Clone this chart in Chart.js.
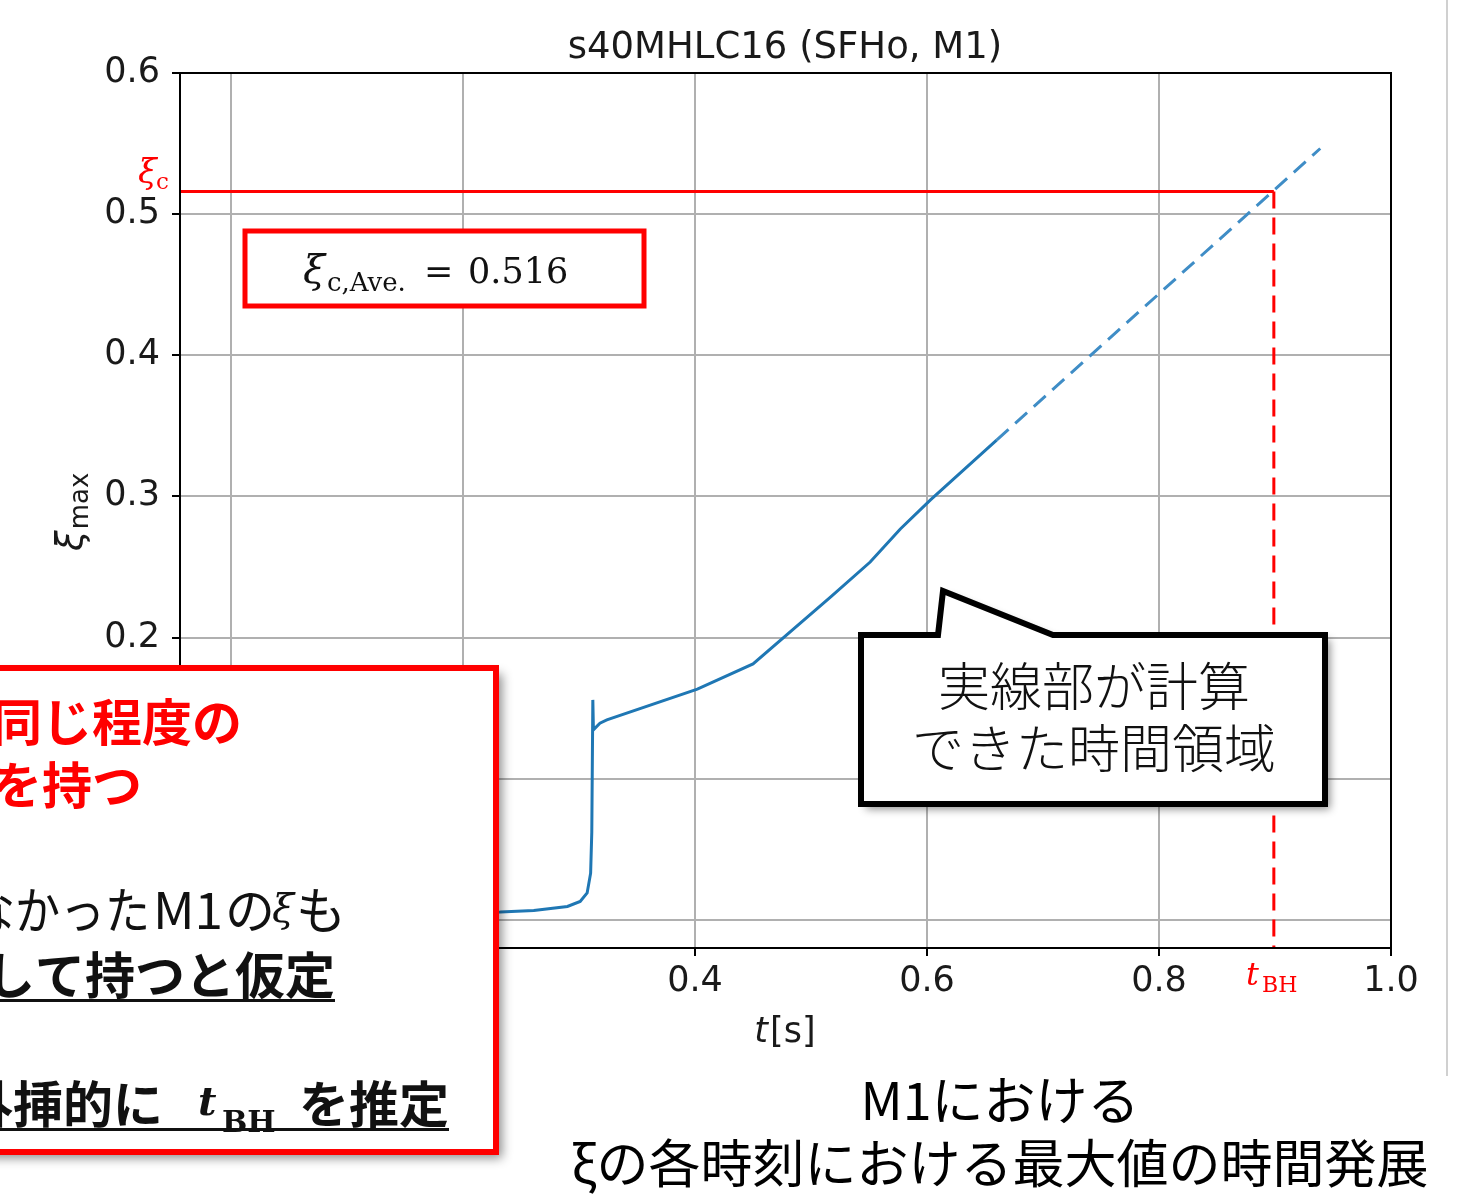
<!DOCTYPE html>
<html>
<head>
<meta charset="utf-8">
<script src="https://cdn.jsdelivr.net/npm/chart.js@4.4.1/dist/chart.umd.min.js"></script>
<style>
  html, body { margin: 0; padding: 0; background: #ffffff; overflow: hidden; }
  canvas { display: block; }
</style>
</head>
<body>
<canvas id="chart" width="1458" height="1204"></canvas>
<script>
// Maximum of xi at each time, computed part of the run (t in seconds)
const simTime = [0.000, 0.050, 0.100, 0.150, 0.200, 0.232, 0.261, 0.290, 0.301, 0.307, 0.310,
                 0.311, 0.3119, 0.3124, 0.318, 0.324, 0.402, 0.450, 0.517, 0.551,
                 0.577, 0.603, 0.660];
const simXi   = [0.002, 0.003, 0.004, 0.0045, 0.005, 0.0055, 0.0066, 0.0094, 0.013, 0.019, 0.033,
                 0.062, 0.1558, 0.1346, 0.1393, 0.1416, 0.1634, 0.1813, 0.2288, 0.2535,
                 0.2769, 0.2975, 0.3399];

// Linear extrapolation beyond the computed interval
const extrapTime = [0.660, 0.939];
const extrapXi   = [0.3399, 0.5465];

// Critical compactness and the estimated BH formation time
const xiCritical = 0.516;
const tBH = 0.899;

// Axis ranges and tick values
const xRange = [-0.044, 1.0];
const yRange = [-0.02, 0.6];
const xTicks = [0.0, 0.2, 0.4, 0.6, 0.8, 1.0];
const yTicks = [0.0, 0.1, 0.2, 0.3, 0.4, 0.5, 0.6];

const titleText = 's40MHLC16 (SFHo, M1)';
const boxValueText = '0.516';
const calloutLines = ['実線部が計算', 'できた時間領域'];
const captionLines = ['M1における', 'ξの各時刻における最大値の時間発展'];

const CJK = '"Noto Sans CJK JP", "Noto Sans", sans-serif';
const SANS = '"DejaVu Sans", sans-serif';
const SERIF = '"DejaVu Serif", serif';

function pts(xs, ys) { return xs.map((x, i) => ({ x: x, y: ys[i] })); }

// draw text squeezed or stretched horizontally to a given width
function fitText(ctx, text, left, y, width) {
  const w = ctx.measureText(text).width;
  ctx.save();
  ctx.translate(left, y);
  ctx.scale(width / w, 1);
  ctx.textAlign = 'left';
  ctx.fillText(text, 0, 0);
  ctx.restore();
}

const frame = {
  id: 'frame',
  afterDatasetsDraw(chart) {
    const { ctx, chartArea: a } = chart;
    ctx.save();
    ctx.strokeStyle = '#000';
    ctx.lineWidth = 2;
    ctx.strokeRect(a.left, a.top, a.right - a.left, a.bottom - a.top);
    ctx.restore();
  }
};

const annotations = {
  id: 'annotations',
  afterDraw(chart) {
    const ctx = chart.ctx;
    ctx.save();

    // title
    ctx.fillStyle = '#1a1a1a';
    ctx.font = '37px ' + SANS;
    ctx.textAlign = 'center';
    ctx.textBaseline = 'alphabetic';
    ctx.fillText(titleText, 785, 58);

    // x axis label: t[s]
    ctx.textAlign = 'left';
    ctx.font = 'italic 35px ' + SANS;
    const wT = ctx.measureText('t').width;
    ctx.font = '35px ' + SANS;
    const wS = ctx.measureText('[s]').width;
    const x0 = 785 - (wT + wS + 2) / 2;
    ctx.font = 'italic 35px ' + SANS;
    ctx.fillText('t', x0, 1042);
    ctx.font = '35px ' + SANS;
    ctx.fillText('[s]', x0 + wT + 2, 1042);

    // y axis label: xi_max
    ctx.save();
    ctx.translate(82, 551);
    ctx.rotate(-Math.PI / 2);
    ctx.font = 'italic 37px ' + SANS;
    ctx.fillText('ξ', 0, 0);
    const wXi = ctx.measureText('ξ').width;
    ctx.font = '26px ' + SANS;
    ctx.fillText('max', wXi + 1, 6);
    ctx.restore();

    // xi_c label next to the axis
    ctx.fillStyle = '#ff0000';
    ctx.font = 'italic 34px ' + SERIF;
    ctx.fillText('ξ', 138, 183);
    ctx.font = '23px ' + SERIF;
    ctx.fillText('c', 156, 189);

    // t_BH label below the axis
    ctx.font = 'italic 32px ' + SERIF;
    ctx.fillText('t', 1246, 985);
    ctx.font = '22px ' + SERIF;
    ctx.fillText('BH', 1262, 992);

    // xi_c,Ave. value box
    ctx.fillStyle = '#ffffff';
    ctx.fillRect(245, 231, 399, 75);
    ctx.strokeStyle = '#ff0000';
    ctx.lineWidth = 5;
    ctx.strokeRect(245, 231, 399, 75);
    ctx.fillStyle = '#111';
    ctx.font = 'italic 40px ' + SERIF;
    ctx.fillText('ξ', 303, 283);
    ctx.font = '26px ' + SERIF;
    ctx.fillText('c,Ave.', 327, 291);
    ctx.font = '35px ' + SERIF;
    ctx.fillText('=', 424, 283);
    ctx.fillText(boxValueText, 468, 283);

    // speech-bubble callout
    ctx.save();
    ctx.beginPath();
    ctx.moveTo(861, 635);
    ctx.lineTo(938, 635);
    ctx.lineTo(943, 591);
    ctx.lineTo(1053, 635);
    ctx.lineTo(1325, 635);
    ctx.lineTo(1325, 804);
    ctx.lineTo(861, 804);
    ctx.closePath();
    ctx.shadowColor = 'rgba(0,0,0,0.45)';
    ctx.shadowBlur = 8;
    ctx.shadowOffsetX = 5;
    ctx.shadowOffsetY = 5;
    ctx.fillStyle = '#ffffff';
    ctx.fill();
    ctx.shadowColor = 'rgba(0,0,0,0)';
    ctx.lineJoin = 'miter';
    ctx.lineWidth = 6;
    ctx.strokeStyle = '#000';
    ctx.stroke();
    ctx.restore();
    ctx.fillStyle = '#111';
    ctx.textAlign = 'center';
    ctx.textBaseline = 'middle';
    ctx.font = '300 52px ' + CJK;
    ctx.fillText(calloutLines[0], 1094, 686);
    ctx.fillText(calloutLines[1], 1094, 748);

    // explanatory box on the lower left
    ctx.save();
    ctx.shadowColor = 'rgba(0,0,0,0.45)';
    ctx.shadowBlur = 10;
    ctx.shadowOffsetX = 6;
    ctx.shadowOffsetY = 6;
    ctx.fillStyle = '#ffffff';
    ctx.fillRect(-20, 668, 516, 484);
    ctx.restore();
    ctx.strokeStyle = '#ff0000';
    ctx.lineWidth = 6;
    ctx.strokeRect(-20, 668, 516, 484);

    ctx.textAlign = 'right';
    ctx.textBaseline = 'middle';
    ctx.fillStyle = '#ff0000';
    ctx.font = '700 50px ' + CJK;
    ctx.fillText('同じ程度の', 242, 722);
    ctx.fillText('を持つ', 142, 785);

    ctx.fillStyle = '#111';
    ctx.font = '400 50px ' + CJK;
    fitText(ctx, 'なかった', -30, 910, 180);
    fitText(ctx, 'M1', 153, 910, 70);
    ctx.textAlign = 'left';
    ctx.fillText('の', 225, 910);
    ctx.textAlign = 'right';
    ctx.fillText('も', 346, 910);
    ctx.textAlign = 'left';
    ctx.textBaseline = 'alphabetic';
    ctx.font = 'italic 40px ' + SERIF;
    ctx.fillText('ξ', 272, 922);

    ctx.textAlign = 'right';
    ctx.textBaseline = 'middle';
    ctx.font = '700 50px ' + CJK;
    ctx.fillText('して持つと仮定', 335, 975);
    ctx.fillText('外挿的に', 163, 1104);
    ctx.fillText('を推定', 449, 1104);
    ctx.textAlign = 'left';
    ctx.textBaseline = 'alphabetic';
    ctx.font = 'italic bold 40px ' + SERIF;
    ctx.fillText('t', 198, 1115);
    ctx.font = 'bold 30px ' + SERIF;
    ctx.fillText('BH', 222, 1132);

    ctx.fillStyle = '#111';
    ctx.fillRect(0, 999, 335, 3);
    ctx.fillRect(0, 1128, 449, 3);

    // caption
    ctx.textAlign = 'center';
    ctx.textBaseline = 'middle';
    ctx.fillStyle = '#000';
    ctx.font = '400 52px ' + CJK;
    ctx.fillText(captionLines[0], 1000, 1100);
    ctx.fillText(captionLines[1], 1000, 1163);

    // page edge line
    ctx.fillStyle = '#d0d0d0';
    ctx.fillRect(1446, 0, 2, 1076);

    ctx.restore();
  }
};

const tickFont = { family: 'DejaVu Sans', size: 35 };
const gridStyle = { color: '#b0b0b0', lineWidth: 2, tickLength: 8, tickColor: '#000', tickWidth: 2 };

new Chart(document.getElementById('chart'), {
  type: 'scatter',
  data: {
    datasets: [
      { data: pts(simTime, simXi), showLine: true, borderColor: '#1f77b4', borderWidth: 3,
        pointRadius: 0, tension: 0 },
      { data: pts(extrapTime, extrapXi), showLine: true, borderColor: '#3f8dc6', borderWidth: 3,
        borderDash: [16, 9], pointRadius: 0 },
      { data: [{ x: xRange[0], y: xiCritical }, { x: tBH, y: xiCritical }], showLine: true,
        borderColor: '#ff0000', borderWidth: 3, pointRadius: 0 },
      { data: [{ x: tBH, y: xiCritical }, { x: tBH, y: yRange[0] }], showLine: true,
        borderColor: '#ff0000', borderWidth: 3, borderDash: [17, 9], pointRadius: 0 }
    ]
  },
  options: {
    responsive: false,
    animation: false,
    devicePixelRatio: 1,
    layout: { padding: { top: 73, right: 67, left: 0, bottom: 0 } },
    plugins: { legend: { display: false }, tooltip: { enabled: false }, title: { display: false } },
    scales: {
      x: {
        type: 'linear', min: xRange[0], max: xRange[1],
        afterBuildTicks: s => { s.ticks = xTicks.map(v => ({ value: v })); },
        afterFit: s => { s.height = 256; },
        ticks: { autoSkip: false, maxRotation: 0, padding: 5, font: tickFont, color: '#1a1a1a',
                 callback: v => Number(v).toFixed(1) },
        grid: gridStyle,
        border: { display: false }
      },
      y: {
        type: 'linear', min: yRange[0], max: yRange[1],
        afterBuildTicks: s => { s.ticks = yTicks.map(v => ({ value: v })); },
        afterFit: s => { s.width = 180; },
        ticks: { autoSkip: false, padding: 12, font: tickFont, color: '#1a1a1a',
                 callback: v => Number(v).toFixed(1) },
        grid: gridStyle,
        border: { display: false }
      }
    }
  },
  plugins: [frame, annotations]
});
</script>
</body>
</html>
